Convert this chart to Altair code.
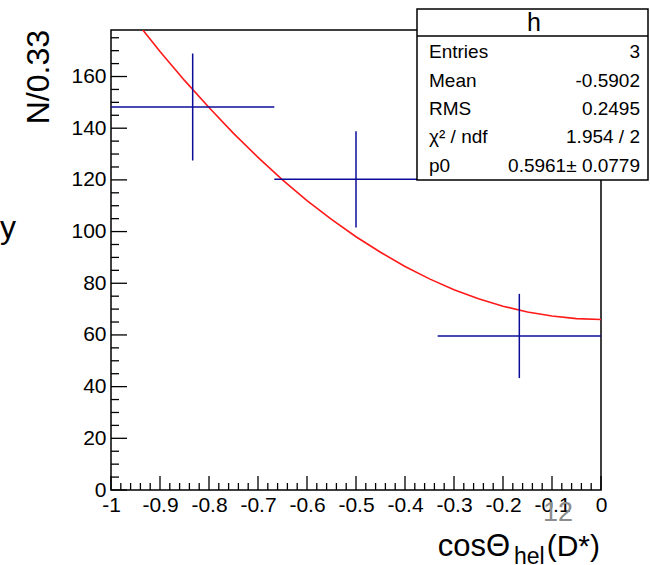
import altair as alt
import pandas as pd

# ---- histogram data ----
bin_center = [-0.8333, -0.5, -0.1667]
bin_low = [-1.0, -0.6667, -0.3333]
bin_high = [-0.6667, -0.3333, 0.0]
counts = [148.2, 120.2, 59.6]
errors = [20.7, 18.6, 16.3]

# ---- fit curve points ----
fit_x = [-0.935, -0.9, -0.85, -0.8, -0.75, -0.7, -0.65, -0.6, -0.55, -0.5, -0.45,
         -0.4, -0.35, -0.3, -0.25, -0.2, -0.15, -0.1, -0.05, 0.0]
fit_y = [178.0, 169.7, 158.5, 148.0, 138.0, 128.7, 120.0, 112.0, 104.7, 98.0, 92.0,
         86.5, 81.7, 77.5, 74.0, 71.1, 68.9, 67.3, 66.3, 66.0]

# ---- axis ticks ----
x_major = [-1.0, -0.9, -0.8, -0.7, -0.6, -0.5, -0.4, -0.3, -0.2, -0.1, 0.0]
x_minor = [round(-1.0 + 0.02 * i, 2) for i in range(51) if i % 5 != 0]
y_major = [0, 20, 40, 60, 80, 100, 120, 140, 160]
y_minor = [v for v in range(5, 180, 5) if v % 20 != 0]

# ---- stats box ----
stats_title = "h"
stats_labels = ["Entries", "Mean", "RMS", "χ² / ndf", "p0"]
stats_values = ["3", "-0.5902", "0.2495", "1.954 / 2", "0.5961± 0.0779"]

W, H = 490, 460
FONT = "Liberation Sans"
BLUE = "#0c0c9a"

xs = alt.Scale(domain=[-1, 0], nice=False, zero=False)
ys = alt.Scale(domain=[0, 178], nice=False, zero=False)

x_label_expr = "datum.value < 0 ? '-' + format(abs(datum.value), '~g') : format(datum.value, '~g')"
xaxis = alt.Axis(values=x_major, labelExpr=x_label_expr, labelPadding=4, title=None,
                 domain=False, ticks=False, grid=False)
yaxis = alt.Axis(values=y_major, labelPadding=5, title=None,
                 domain=False, ticks=False, grid=False)

hist = pd.DataFrame({"c": bin_center, "lo": bin_low, "hi": bin_high,
                     "n": counts, "e": errors})
hist["n_lo"] = hist["n"] - hist["e"]
hist["n_hi"] = hist["n"] + hist["e"]
fit = pd.DataFrame({"x": fit_x, "y": fit_y})

fit_line = alt.Chart(fit).mark_line(color="#ff1a1a", strokeWidth=1.6, clip=True).encode(
    x=alt.X("x:Q", scale=xs, axis=xaxis),
    y=alt.Y("y:Q", scale=ys, axis=yaxis),
)

hbars = alt.Chart(hist).mark_rule(color=BLUE, strokeWidth=1.5).encode(
    x=alt.X("lo:Q", scale=xs, axis=xaxis), x2="hi:Q",
    y=alt.Y("n:Q", scale=ys, axis=yaxis),
)
vbars = alt.Chart(hist).mark_rule(color=BLUE, strokeWidth=1.5).encode(
    x=alt.X("c:Q", scale=xs, axis=xaxis),
    y=alt.Y("n_lo:Q", scale=ys, axis=yaxis), y2="n_hi:Q",
)

def yticks(vals, length):
    return alt.Chart(pd.DataFrame({"v": vals})).mark_rule(color="black", strokeWidth=1.3).encode(
        y=alt.Y("v:Q", scale=ys, axis=yaxis), x=alt.value(0), x2=alt.value(length))

def xticks(vals, length):
    return alt.Chart(pd.DataFrame({"v": vals})).mark_rule(color="black", strokeWidth=1.3).encode(
        x=alt.X("v:Q", scale=xs, axis=xaxis), y=alt.value(H), y2=alt.value(H - length))

one = alt.Data(values=[{}])

def txt(s, x, y, size, align="left", color="black", angle=None, baseline="alphabetic"):
    kw = dict(fontSize=size, font=FONT, align=align, color=color, baseline=baseline)
    if angle is not None:
        kw["angle"] = angle
    return alt.Chart(one).mark_text(**kw).encode(
        x=alt.value(x), y=alt.value(y), text=alt.value(s))

layers = [fit_line, hbars, vbars,
          yticks(y_major, 16), yticks(y_minor, 8),
          xticks(x_major, 14), xticks(x_minor, 7)]

# stats box
box = alt.Chart(one).mark_rect(fill="white", stroke="black", strokeWidth=1.5).encode(
    x=alt.value(306), x2=alt.value(537), y=alt.value(-21), y2=alt.value(150))
divider = alt.Chart(one).mark_rule(color="black", strokeWidth=1.5).encode(
    x=alt.value(306), x2=alt.value(537), y=alt.value(6))
layers += [box, divider, txt(stats_title, 423, 0.5, 25, align="center")]
row_base = [28.3, 57.0, 85.0, 113.3, 141.5]
for lab, val, yb in zip(stats_labels, stats_values, row_base):
    layers.append(txt(lab, 318, yb, 19))
    layers.append(txt(val, 529, yb, 19, align="right"))

# axis titles and stray slide text
layers += [
    txt("N/0.33", -62, 0, 32, align="right", angle=270),
    txt("cosΘ", 399, 526, 31, align="right"),
    txt("hel", 403, 534, 23),
    txt("(D*)", 489, 526, 30, align="right"),
    txt("12", 447, 491, 27, align="center", color="#8c8c8c"),
    txt("y", -111, 208, 32),
]

chart = alt.layer(*layers).properties(
    width=W, height=H,
    autosize=alt.AutoSizeParams(type="none"),
    padding={"left": 111, "top": 30, "right": 49, "bottom": 75},
    background="white",
).configure_view(stroke="black", strokeWidth=1.5).configure_axis(
    labelFont=FONT, labelFontSize=21,
    labelColor="black", labelOverlap=False, labelFlush=False, labelBound=False,
)

chart.save("out.html", embed_options={"renderer": "svg", "actions": False})
